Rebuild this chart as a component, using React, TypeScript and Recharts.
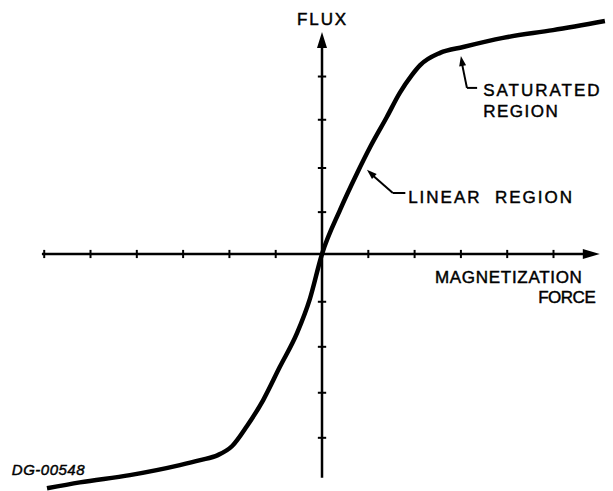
import React from "react";
import { LineChart, Line, XAxis, YAxis, ReferenceLine, ReferenceDot } from "recharts";

// magnetization curve (force vs flux)
const curveForce = [
  -5.94, -5.23, -4.15, -3.07, -2.63, -2.25, -1.94, -1.62, -1.27, -0.91, -0.54, -0.26, 0,
  0.39, 0.76, 1.04, 1.4, 1.68, 1.94, 2.12, 2.55, 3.05, 3.91, 4.99, 6.11,
];
const curveFlux = [
  -5.15, -5.02, -4.86, -4.64, -4.53, -4.42, -4.22, -3.78, -3.21, -2.48, -1.74, -0.98, 0,
  0.97, 1.78, 2.35, 3.01, 3.54, 3.93, 4.15, 4.42, 4.55, 4.75, 4.92, 5.12,
];
const xTicks = [-6, -5, -4, -3, -2, -1, 1, 2, 3, 4, 5];
const yTicks = [-4.04, -3.05, -2.04, -1.05, 0.92, 1.89, 2.95, 3.9];

const curve = curveForce.map((x, i) => ({ x, y: curveFlux[i] }));

const FONT = "'Liberation Sans', Arial, sans-serif";

const Arrow = ({ cx, cy, angle, len, wid }: any) => (
  <polygon
    points={`0,0 ${-len},${-wid / 2} ${-len},${wid / 2}`}
    transform={`translate(${cx},${cy}) rotate(${angle})`}
    fill="#000"
  />
);

const label = (text: string, spacing: number, size = 17, italic = false) => (p: any) => (
  <text
    x={p.cx}
    y={p.cy}
    fontFamily={FONT}
    fontSize={size}
    fontStyle={italic ? "italic" : "normal"}
    fill="#000"
    stroke="#000"
    strokeWidth={0.45}
    letterSpacing={spacing}
    style={{ whiteSpace: "pre" }}
  >
    {text}
  </text>
);

export default function App() {
  return (
    <div style={{ position: "absolute", left: 0, top: 0, background: "#fff" }}>
      <LineChart width={613} height={491} data={curve} margin={{ top: 0, right: 0, bottom: 0, left: 0 }}>
        <XAxis type="number" dataKey="x" domain={[-6.955, 6.285]} hide allowDataOverflow />
        <YAxis type="number" dataKey="y" domain={[-5.209, 5.582]} hide allowDataOverflow />

        {/* axes */}
        <ReferenceLine segment={[{ x: -6.05, y: 0 }, { x: 5.8, y: 0 }]} stroke="#000" strokeWidth={2.5} />
        <ReferenceLine segment={[{ x: 0, y: -4.92 }, { x: 0, y: 4.6 }]} stroke="#000" strokeWidth={2.5} />
        {xTicks.map((t) => (
          <ReferenceLine key={`xt${t}`} segment={[{ x: t, y: -0.09 }, { x: t, y: 0.09 }]} stroke="#000" strokeWidth={2} />
        ))}
        {yTicks.map((t) => (
          <ReferenceLine key={`yt${t}`} segment={[{ x: -0.09, y: t }, { x: 0.09, y: t }]} stroke="#000" strokeWidth={2} />
        ))}
        <ReferenceDot x={6.0} y={0} shape={(p: any) => <Arrow {...p} angle={0} len={17} wid={10} />} />
        <ReferenceDot x={0} y={4.88} shape={(p: any) => <Arrow {...p} angle={-90} len={16} wid={10} />} />

        <Line
          type="monotone"
          dataKey="y"
          stroke="#000"
          strokeWidth={4.5}
          dot={false}
          activeDot={false}
          isAnimationActive={false}
        />

        {/* leader lines */}
        <ReferenceLine segment={[{ x: 3.02, y: 4.2 }, { x: 3.13, y: 3.65 }]} stroke="#000" strokeWidth={2} />
        <ReferenceLine segment={[{ x: 3.13, y: 3.65 }, { x: 3.35, y: 3.65 }]} stroke="#000" strokeWidth={2} />
        <ReferenceDot x={3.0} y={4.35} shape={(p: any) => <Arrow {...p} angle={-100} len={10} wid={7} />} />
        <ReferenceLine segment={[{ x: 1.08, y: 1.74 }, { x: 1.53, y: 1.34 }]} stroke="#000" strokeWidth={2} />
        <ReferenceLine segment={[{ x: 1.53, y: 1.34 }, { x: 1.8, y: 1.34 }]} stroke="#000" strokeWidth={2} />
        <ReferenceDot x={0.97} y={1.85} shape={(p: any) => <Arrow {...p} angle={-138} len={10} wid={7} />} />

        {/* labels */}
        <ReferenceDot x={-0.54} y={5.03} shape={label("FLUX", 1.9)} />
        <ReferenceDot x={2.44} y={-0.64} shape={label("MAGNETIZATION", 0.7)} />
        <ReferenceDot x={4.67} y={-1.08} shape={label("FORCE", -0.5)} />
        <ReferenceDot x={3.48} y={3.47} shape={label("SATURATED", 2)} />
        <ReferenceDot x={3.48} y={3.01} shape={label("REGION", 1.5)} />
        <ReferenceDot x={1.86} y={1.12} shape={label("LINEAR  REGION", 2)} />
        <ReferenceDot x={-6.7} y={-4.86} shape={label("DG-00548", 0.5, 15, true)} />
      </LineChart>
    </div>
  );
}
